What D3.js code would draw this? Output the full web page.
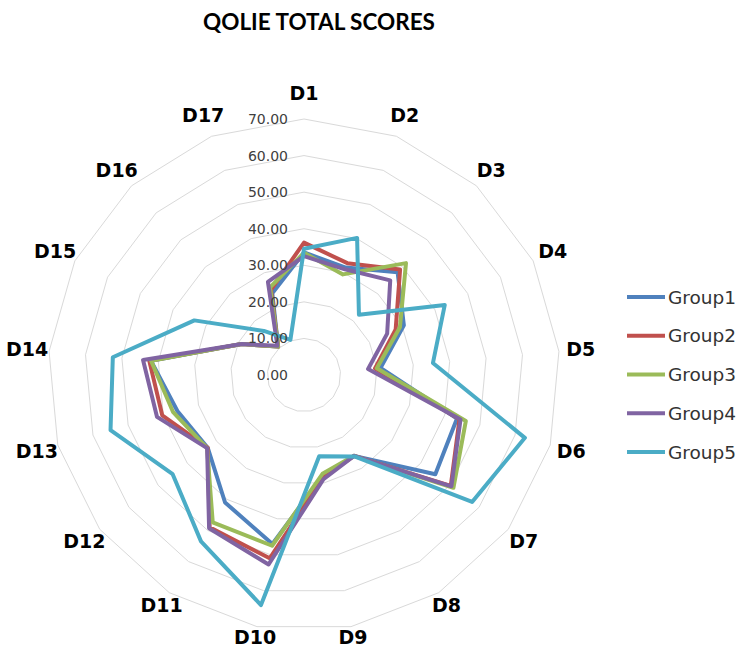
<!DOCTYPE html>
<html>
<head>
<meta charset="utf-8">
<script src="https://cdn.jsdelivr.net/npm/d3@7"></script>
<style>
  html, body { margin: 0; padding: 0; background: #fff; }
  svg { display: block; }
</style>
</head>
<body>
<svg id="chart" width="750" height="650"></svg>
<script>
const categories = ["D1","D2","D3","D4","D5","D6","D7","D8","D9","D10","D11","D12","D13","D14","D15","D16","D17"];
const seriesNames = ["Group1","Group2","Group3","Group4","Group5"];
const group1 = [33.5, 31.5, 38.0, 30.5, 21.0, 43.5, 45.0, 26.0, 28.0, 47.0, 41.0, 33.0, 36.0, 42.0, 19.0, 10.5, 24.0];
const group2 = [36.2, 32.8, 39.0, 28.0, 19.5, 44.2, 50.3, 26.0, 28.5, 51.0, 49.0, 33.0, 40.3, 42.5, 19.0, 10.5, 25.0];
const group3 = [33.4, 29.5, 41.4, 29.3, 20.0, 46.0, 51.2, 26.0, 27.5, 47.5, 47.4, 33.2, 37.2, 42.0, 19.0, 10.5, 25.7];
const group4 = [32.5, 31.0, 35.0, 25.4, 17.6, 44.5, 50.5, 26.0, 29.0, 52.7, 49.3, 33.2, 41.8, 44.2, 19.0, 10.8, 27.3];
const group5 = [34.5, 40.2, 22.3, 43.0, 35.4, 62.8, 57.6, 26.2, 22.6, 64.0, 53.5, 45.0, 55.0, 52.5, 33.5, 16.3, 10.3];
const seriesValues = [group1, group2, group3, group4, group5];
const colors = ["#4F81BD", "#C0504D", "#9BBB59", "#8064A2", "#4BACC6"];
const tickValues = [0, 10, 20, 30, 40, 50, 60, 70];
const title = "QOLIE TOTAL SCORES";

const svg = d3.select("#chart");
const cx = 304, cy = 375, R = 256;
const fontTitle = "Lato, 'Open Sans', sans-serif";
const fontWide = "'DejaVu Sans', Verdana, sans-serif";

const r = d3.scaleLinear().domain([0, 70]).range([0, R]);
const angle = d3.scalePoint().domain(categories.concat(["_end"])).range([0, 2 * Math.PI]);

const g = svg.append("g").attr("transform", `translate(${cx},${cy})`);

const ringLine = d3.lineRadial()
  .angle(d => angle(d.c))
  .radius(d => r(d.v))
  .curve(d3.curveLinearClosed);

// grid rings (polygons)
g.append("g").selectAll("path")
  .data(tickValues.filter(t => t > 0))
  .join("path")
  .attr("d", t => ringLine(categories.map(c => ({c, v: t}))))
  .attr("fill", "none")
  .attr("stroke", "#d9d9d9")
  .attr("stroke-width", 1);

// series
g.append("g").selectAll("path")
  .data(seriesValues)
  .join("path")
  .attr("d", vals => ringLine(categories.map((c, i) => ({c, v: vals[i]}))))
  .attr("fill", "none")
  .attr("stroke", (d, i) => colors[i])
  .attr("stroke-width", 4)
  .attr("stroke-linejoin", "round");

// tick labels
g.append("g").selectAll("text")
  .data(tickValues)
  .join("text")
  .attr("x", -16)
  .attr("y", t => -r(t))
  .attr("text-anchor", "end")
  .attr("dominant-baseline", "central")
  .attr("font-family", fontWide)
  .attr("font-size", 14)
  .attr("fill", "#404040")
  .text(t => d3.format(".2f")(t));

// category labels
function labelRadius(c) {
  const co = Math.cos(angle(c));
  return 278 - 12 * Math.pow(Math.max(0, -co), 3) + 4 * Math.pow(Math.max(0, co), 20);
}
g.append("g").selectAll("text")
  .data(categories)
  .join("text")
  .attr("x", c => labelRadius(c) * Math.sin(angle(c)))
  .attr("y", c => -labelRadius(c) * Math.cos(angle(c)))
  .attr("text-anchor", "middle")
  .attr("dominant-baseline", "central")
  .attr("font-family", fontWide)
  .attr("font-weight", "bold")
  .attr("font-size", 19)
  .attr("fill", "#000")
  .text(c => c);

// title
svg.append("text")
  .attr("x", 319)
  .attr("y", 21)
  .attr("text-anchor", "middle")
  .attr("dominant-baseline", "central")
  .attr("font-family", fontTitle)
  .attr("font-weight", "bold")
  .attr("font-size", 22.5)
  .attr("fill", "#000")
  .text(title);

// legend
const ly = d3.scalePoint().domain(seriesNames).range([297, 452]);
const legend = svg.append("g").selectAll("g")
  .data(seriesNames)
  .join("g")
  .attr("transform", d => `translate(627,${ly(d)})`);
legend.append("line")
  .attr("x1", 0).attr("x2", 38).attr("y1", 0).attr("y2", 0)
  .attr("stroke", (d, i) => colors[i])
  .attr("stroke-width", 4);
legend.append("text")
  .attr("x", 41)
  .attr("y", 0)
  .attr("dominant-baseline", "central")
  .attr("font-family", fontWide)
  .attr("font-size", 18.5)
  .attr("fill", "#333")
  .text(d => d);
</script>
</body>
</html>
